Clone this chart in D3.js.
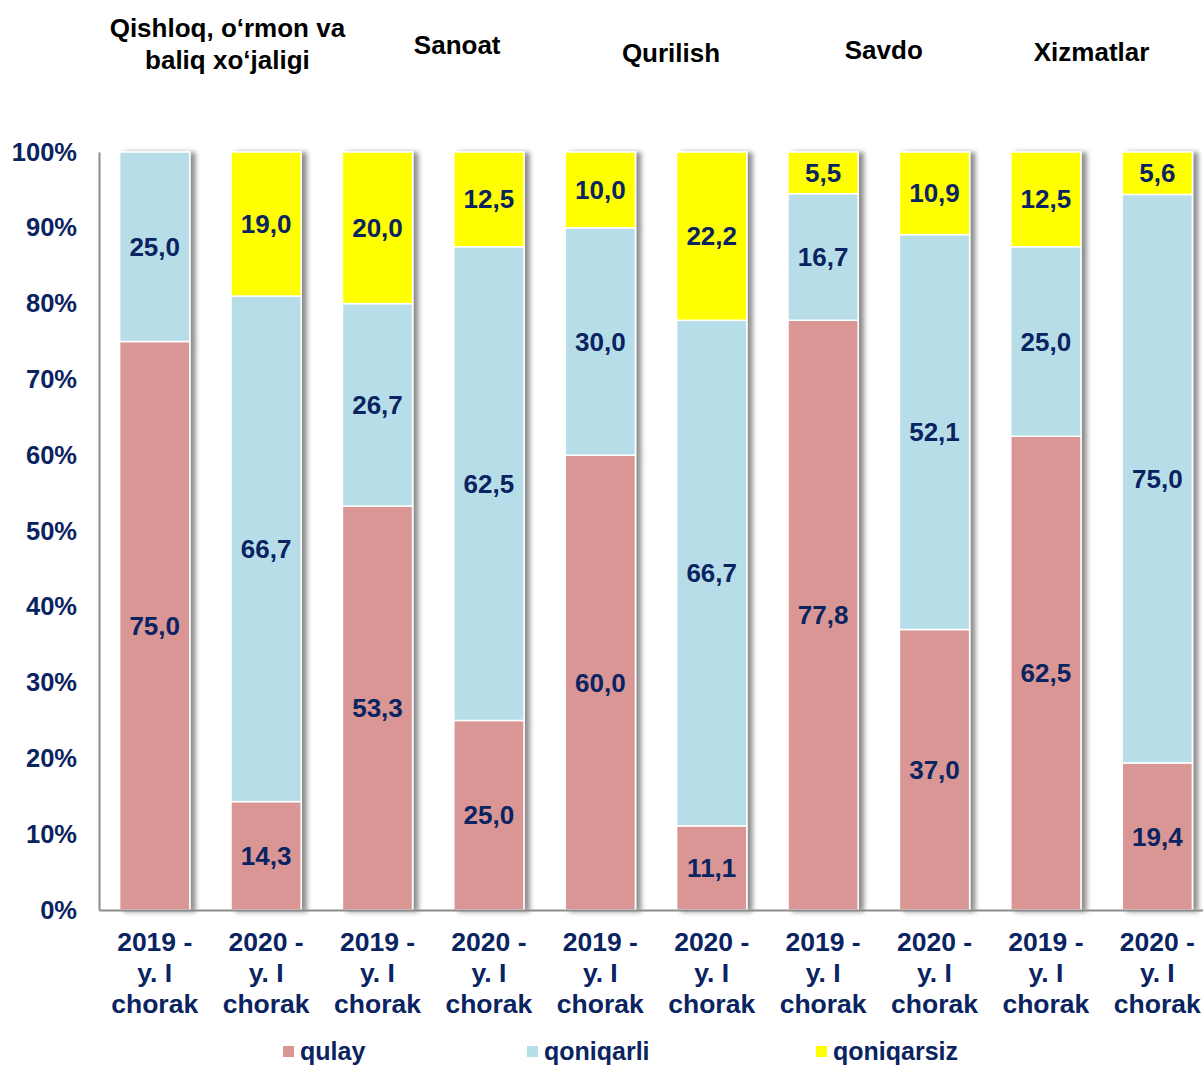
<!DOCTYPE html>
<html>
<head>
<meta charset="utf-8">
<script src="https://cdn.jsdelivr.net/npm/d3@7"></script>
<style>
  body { margin: 0; background: #fff; }
  svg text { font-family: "Liberation Sans", Arial, sans-serif; font-weight: bold; }
</style>
</head>
<body>
<div id="chart"></div>
<script>
// ---- data ----
var periods = ["2019 -|y. I|chorak", "2020 -|y. I|chorak"];
var sectors = ["Qishloq, o\u2018rmon va|baliq xo\u2018jaligi", "Sanoat", "Qurilish", "Savdo", "Xizmatlar"];
var seriesNames = ["qulay", "qoniqarli", "qoniqarsiz"];
var qulay      = [75.0, 14.3, 53.3, 25.0, 60.0, 11.1, 77.8, 37.0, 62.5, 19.4];
var qoniqarli  = [25.0, 66.7, 26.7, 62.5, 30.0, 66.7, 16.7, 52.1, 25.0, 75.0];
var qoniqarsiz = [0,    19.0, 20.0, 12.5, 10.0, 22.2, 5.5,  10.9, 12.5, 5.6];
var yTicks = [0, 10, 20, 30, 40, 50, 60, 70, 80, 90, 100];

// ---- layout ----
var W = 1203, H = 1066;
var m = {left: 99, right: 1213, top: 152, bottom: 910};
var colors = ["#D99694", "#B7DEE8", "#FFFF00"];
var textColor = "#0A2361";
var titleNudge = [17, 24, 15, 5, -10];
var titleY = [28, 45, 53, 50, 52];

var svg = d3.select("#chart").append("svg")
  .attr("width", W).attr("height", H);

var defs = svg.append("defs");
var f = defs.append("filter").attr("id", "shadow")
  .attr("x", "-10%").attr("y", "-5%").attr("width", "140%").attr("height", "110%");
f.append("feDropShadow").attr("dx", 5).attr("dy", 1).attr("stdDeviation", 2.5)
  .attr("flood-color", "#000").attr("flood-opacity", 0.45);

var ids = d3.range(qulay.length);
var x = d3.scaleBand().domain(ids).range([m.left, m.right]).paddingInner(0.37).paddingOuter(0.185);
var y = d3.scaleLinear().domain([0, 100]).range([m.bottom, m.top]);

var rows = ids.map(function(i){
  return {id: i, qulay: qulay[i], qoniqarli: qoniqarli[i], qoniqarsiz: qoniqarsiz[i]};
});
var stacked = d3.stack().keys(seriesNames)(rows);

// bars (one group per bar for the shadow)
var barG = svg.append("g").selectAll("g").data(ids).enter().append("g")
  .attr("filter", "url(#shadow)");
barG.each(function(i){
  var g = d3.select(this);
  stacked.forEach(function(s, k){
    var d = s[i];
    if (d[1] - d[0] <= 0) return;
    g.append("rect")
      .attr("x", x(i))
      .attr("y", y(d[1]))
      .attr("width", x.bandwidth())
      .attr("height", y(d[0]) - y(d[1]))
      .attr("fill", colors[k])
      .attr("stroke", "#fff")
      .attr("stroke-width", 1.5);
  });
});

// value labels
stacked.forEach(function(s, k){
  svg.append("g").selectAll("text").data(s.filter(function(d){ return d[1] - d[0] > 0; }))
    .enter().append("text")
    .attr("x", function(d){ return x(d.data.id) + x.bandwidth() / 2; })
    .attr("y", function(d){ return (y(d[0]) + y(d[1])) / 2; })
    .attr("dy", "0.35em")
    .attr("text-anchor", "middle")
    .attr("font-size", 26)
    .attr("fill", textColor)
    .text(function(d){ return d3.format(".1f")(d[1] - d[0]).replace(".", ","); });
});

// axes
var yAxis = svg.append("g").attr("transform", "translate(" + m.left + ",0)")
  .call(d3.axisLeft(y).tickValues(yTicks).tickSize(0).tickPadding(22)
    .tickFormat(function(d){ return d + "%"; }));
yAxis.select(".domain").attr("stroke", "#8c8c8c").attr("stroke-width", 2);
yAxis.selectAll("text").attr("font-size", 25.5).attr("fill", textColor)
  .attr("font-family", "Liberation Sans, Arial, sans-serif").attr("font-weight", "bold");

var xAxis = svg.append("g").attr("transform", "translate(0," + m.bottom + ")")
  .call(d3.axisBottom(x).tickSize(0).tickFormat(""));
xAxis.select(".domain").attr("stroke", "#8c8c8c").attr("stroke-width", 2);
xAxis.selectAll(".tick").each(function(i){
  var t = d3.select(this).append("text")
    .attr("text-anchor", "middle").attr("font-size", 26.5).attr("fill", textColor)
    .attr("font-family", "Liberation Sans, Arial, sans-serif").attr("font-weight", "bold");
  periods[i % 2].split("|").forEach(function(line, j){
    t.append("tspan").attr("x", 0).attr("y", 41 + j * 31).text(line);
  });
});

// sector titles
sectors.forEach(function(name, s){
  var cx = (x(s * 2) + x(s * 2 + 1) + x.bandwidth()) / 2 + titleNudge[s];
  var lines = name.split("|");
  var t = svg.append("text").attr("text-anchor", "middle").attr("font-size", 26).attr("fill", "#000");
  lines.forEach(function(line, j){
    t.append("tspan").attr("x", cx).attr("y", titleY[s] + 9 + j * 32).text(line);
  });
});

// legend
var legendX = [283, 527, 816];
var lg = svg.append("g").selectAll("g").data(seriesNames).enter().append("g")
  .attr("transform", function(d, k){ return "translate(" + legendX[k] + ",1046)"; });
lg.append("rect").attr("width", 11).attr("height", 11)
  .attr("fill", function(d, k){ return colors[k]; });
lg.append("text").attr("x", 17).attr("y", 5.5).attr("dy", "0.33em")
  .attr("font-size", 25).attr("fill", textColor).text(function(d){ return d; });
</script>
</body>
</html>
